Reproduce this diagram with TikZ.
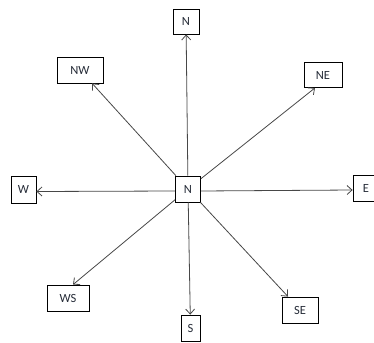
\documentclass[tikz,border=0pt]{standalone}
\usepackage{fontspec}
\setmainfont{Carlito}
\usetikzlibrary{arrows.meta}
\definecolor{linegray}{HTML}{474747}
\definecolor{labelink}{HTML}{262C38}
\begin{document}
\begin{tikzpicture}[x=1pt,y=-1pt,
  box/.style={draw=black,line width=0.8pt,inner sep=0pt,
    font=\fontsize{12.5}{13}\selectfont,text=labelink,fill=white},
  arr/.style={draw=linegray,line width=0.8pt,
    -{Straight Barb[length=5pt,width=9pt,line width=0.8pt]}}]
\useasboundingbox (0,0) rectangle (374,342);
\clip (0,0) rectangle (374,342);
% centre and the eight direction boxes
\node[box,minimum width=25pt,minimum height=26pt] (c)  at (188,189)   {N};
\node[box,minimum width=26pt,minimum height=25pt] (n)  at (186,21.5)  {N};
\node[box,minimum width=46pt,minimum height=26pt] (nw) at (80,70)     {NW};
\node[box,minimum width=38pt,minimum height=25pt] (ne) at (323,75)    {NE};
\node[box,minimum width=25pt,minimum height=27pt] (w)  at (23.5,189.5){W};
\node[box,minimum width=26pt,minimum height=26pt] (e)  at (366,188.5) {E};
\node[box,minimum width=42pt,minimum height=26pt] (ws) at (68,298)    {WS};
\node[box,minimum width=19pt,minimum height=26pt] (s)  at (190.5,328) {S};
\node[box,minimum width=36pt,minimum height=26pt] (se) at (300,310)   {SE};
% arrows from the centre
\draw[arr] (c) -- (n);
\draw[arr] (c) -- (nw);
\draw[arr] (c) -- ([xshift=-8pt]ne.south);
\draw[arr] ([yshift=-2pt]c.west) -- ([yshift=-2pt]w.east);
\draw[arr] ([yshift=-2pt]c.east) -- ([yshift=-1.5pt]e.west);
\draw[arr] (c) -- ([xshift=5pt]ws.north);
\draw[arr] (c) -- (s);
\draw[arr] (c) -- ([xshift=-12pt]se.north);
\end{tikzpicture}
\end{document}
